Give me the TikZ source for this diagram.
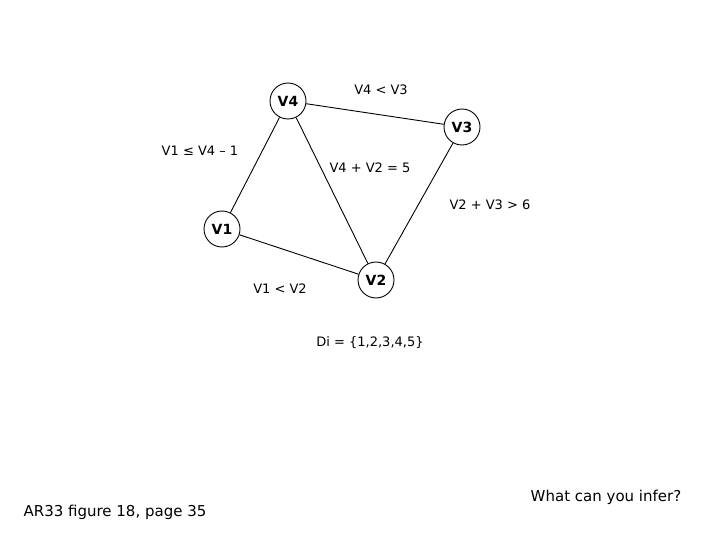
\documentclass[tikz,border=0pt]{standalone}
\usepackage{fontspec}
\setmainfont{DejaVu Sans}
\begin{document}
\begin{tikzpicture}[x=1pt,y=-1pt, line width=0.9pt,
  var/.style={draw, circle, minimum size=36pt, inner sep=0pt, font=\fontsize{14}{16}\selectfont\bfseries},
  lbl/.style={font=\fontsize{13}{15}\selectfont},
  note/.style={font=\fontsize{15}{18}\selectfont}]
\useasboundingbox (0,0) rectangle (720,540);
\node[var] (v4) at (288,101) {V4};
\node[var] (v3) at (462,127) {V3};
\node[var] (v1) at (222,229) {V1};
\node[var] (v2) at (376,280) {V2};
\draw (v4) -- (v3);
\draw (v4) -- (v1);
\draw (v4) -- (v2);
\draw (v3) -- (v2);
\draw (v1) -- (v2);
\node[lbl] (c43) at (381,90) {V4 < V3};
\node[lbl] (c14) at (200,151) {V1 ≤ V4 – 1};
\node[lbl] (c42) at (370,168) {V4 + V2 = 5};
\node[lbl] (c23) at (490,205) {V2 + V3 > 6};
\node[lbl] (c12) at (280,289) {V1 <  V2};
\node[lbl] (dom) at (370,343) {Di = \{1,2,3,4,5\}};
\node[note] (src) at (115,512) {AR33 figure 18, page 35};
\node[note] (ask) at (606,497) {What can you infer?};
\end{tikzpicture}
\end{document}
